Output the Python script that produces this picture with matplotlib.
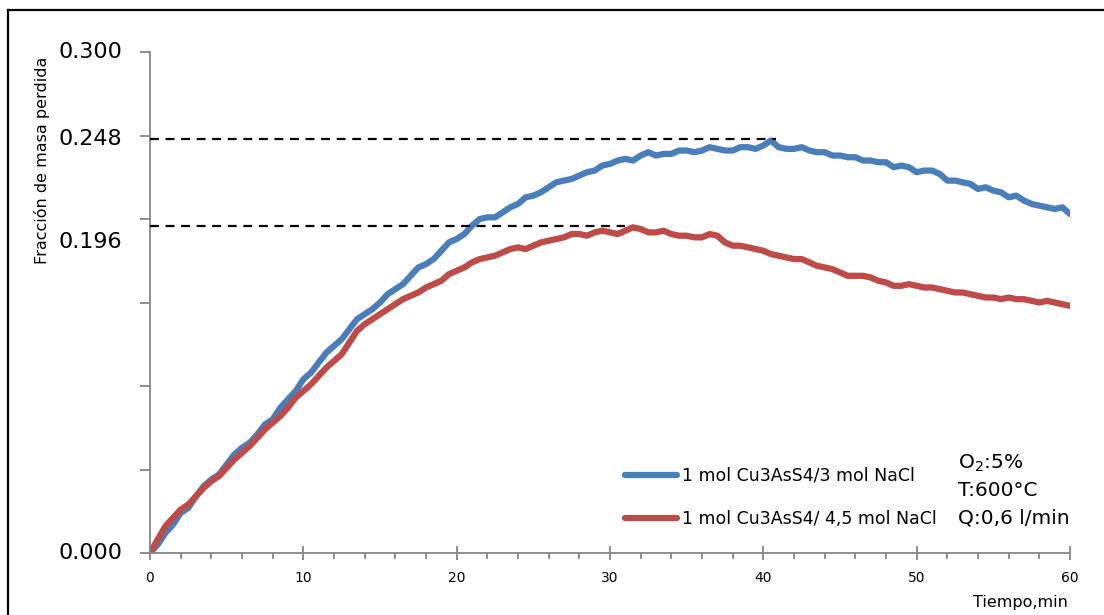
import numpy as np
from matplotlib import pyplot as plt
from matplotlib.lines import Line2D

# Fracción de masa perdida, one value every 0.5 min from 0 to 60 min
blue = [0.000, 0.005, 0.012, 0.017, 0.024, 0.027, 0.034, 0.040, 0.044, 0.047,
        0.053, 0.059, 0.063, 0.066, 0.071, 0.077, 0.080, 0.087, 0.092, 0.097,
        0.104, 0.108, 0.114, 0.120, 0.124, 0.128, 0.134, 0.140, 0.143, 0.146,
        0.150, 0.155, 0.158, 0.161, 0.166, 0.171, 0.173, 0.176, 0.181, 0.186,
        0.188, 0.191, 0.196, 0.200, 0.201, 0.201, 0.204, 0.207, 0.209, 0.213,
        0.214, 0.216, 0.219, 0.222, 0.223, 0.224, 0.226, 0.228, 0.229, 0.232,
        0.233, 0.235, 0.236, 0.235, 0.238, 0.240, 0.238, 0.239, 0.239, 0.241,
        0.241, 0.240, 0.241, 0.243, 0.242, 0.241, 0.241, 0.243, 0.243, 0.242,
        0.244, 0.247, 0.243, 0.242, 0.242, 0.243, 0.241, 0.240, 0.240, 0.238,
        0.238, 0.237, 0.237, 0.235, 0.235, 0.234, 0.234, 0.231, 0.232, 0.231,
        0.228, 0.229, 0.229, 0.227, 0.223, 0.223, 0.222, 0.221, 0.218, 0.219,
        0.217, 0.216, 0.213, 0.214, 0.211, 0.209, 0.208, 0.207, 0.206, 0.207,
        0.203]
red = [0.000, 0.008, 0.016, 0.021, 0.026, 0.029, 0.034, 0.039, 0.043, 0.046,
       0.051, 0.056, 0.060, 0.064, 0.069, 0.074, 0.078, 0.082, 0.087, 0.093,
       0.097, 0.101, 0.106, 0.111, 0.115, 0.119, 0.126, 0.133, 0.137, 0.140,
       0.143, 0.146, 0.149, 0.152, 0.154, 0.156, 0.159, 0.161, 0.163, 0.167,
       0.169, 0.171, 0.174, 0.176, 0.177, 0.178, 0.180, 0.182, 0.183, 0.182,
       0.184, 0.186, 0.187, 0.188, 0.189, 0.191, 0.191, 0.190, 0.192, 0.193,
       0.192, 0.191, 0.193, 0.195, 0.194, 0.192, 0.192, 0.193, 0.191, 0.190,
       0.190, 0.189, 0.189, 0.191, 0.190, 0.186, 0.184, 0.184, 0.183, 0.182,
       0.181, 0.179, 0.178, 0.177, 0.176, 0.176, 0.174, 0.172, 0.171, 0.170,
       0.168, 0.166, 0.166, 0.166, 0.165, 0.163, 0.162, 0.160, 0.160, 0.161,
       0.160, 0.159, 0.159, 0.158, 0.157, 0.156, 0.156, 0.155, 0.154, 0.153,
       0.153, 0.152, 0.153, 0.152, 0.152, 0.151, 0.150, 0.151, 0.150, 0.149,
       0.148]
t_blue = np.linspace(0, 60, len(blue))
t_red = np.linspace(0, 60, len(red))

labels = ["1 mol Cu3AsS4/3 mol NaCl", "1 mol Cu3AsS4/ 4,5 mol NaCl"]
ref_levels = [0.248, 0.196]
ref_ends = [40.8, 31.0]
ytick_text = ["0.300", "0.248", "0.196", "0.000"]
ytick_pos = [0.300, 0.248, 0.186, 0.000]
conditions = [r"O$_2$:5%", "T:600°C", "Q:0,6 l/min"]

plt.rcParams['font.family'] = ['DejaVu Sans']

fig = plt.figure(figsize=(11.04, 6.15), dpi=100)
ax = fig.add_axes([150 / 1104, 1 - 553 / 615, 920 / 1104, 501 / 615])

ax.plot(t_blue, blue, color='#4a7ebb', lw=4.5, solid_capstyle='round',
        solid_joinstyle='round', label=labels[0])
ax.plot(t_red, red, color='#be4b48', lw=4.5, solid_capstyle='round',
        solid_joinstyle='round', label=labels[1])

for lev, end in zip(ref_levels, ref_ends):
    ax.hlines(lev, 0, end, colors='black', lw=1.6, linestyles=(0, (4, 3)), zorder=5)

ax.set_xlim(0, 60)
ax.set_ylim(0, 0.3)
for s in ['top', 'right']:
    ax.spines[s].set_visible(False)
for s in ['left', 'bottom']:
    ax.spines[s].set_color('#868686')
    ax.spines[s].set_linewidth(1.3)

ax.set_xticks(np.arange(0, 61, 10))
ax.set_xticks(np.arange(0, 61, 2), minor=True)
ax.set_yticks(np.arange(0, 0.31, 0.05))
ax.set_yticklabels([])
ax.tick_params(axis='x', which='major', direction='inout', length=10, width=1.3,
               color='#868686', labelsize=10, pad=8)
ax.tick_params(axis='x', which='minor', direction='out', length=4, width=1.3,
               color='#868686')
ax.tick_params(axis='y', which='major', direction='out', length=7, width=1.3,
               color='#868686')

for txt, pos in zip(ytick_text, ytick_pos):
    ax.text(-1.8, pos, txt, ha='right', va='center', fontsize=16,
            transform=ax.transData, clip_on=False)

fig.text(42 / 1104, 1 - 160 / 615, "Fracción de masa perdida", rotation=90,
         ha='center', va='center', fontsize=11.5)
fig.text(1068 / 1104, 1 - 603 / 615, "Tiempo,min", ha='right', va='center',
         fontsize=11.5)

for i, txt in enumerate(conditions):
    fig.text(958 / 1104, 1 - (463 + 27.5 * i) / 615, txt, ha='left',
             va='center', fontsize=14.5)

ax.legend(loc='upper left', bbox_to_anchor=(625 / 1104, 1 - 467 / 615),
          bbox_transform=fig.transFigure, frameon=False, fontsize=12.5,
          handlelength=3.0, handletextpad=0.3, labelspacing=1.45,
          borderpad=0, borderaxespad=0)

# outer frame (top and left edge only)
fig.add_artist(Line2D([8 / 1104, 1], [1 - 10 / 615, 1 - 10 / 615],
                      color='black', lw=1.6, transform=fig.transFigure))
fig.add_artist(Line2D([8 / 1104, 8 / 1104], [0, 1 - 10 / 615],
                      color='black', lw=1.6, transform=fig.transFigure))

fig.savefig('out.png', dpi=100)
